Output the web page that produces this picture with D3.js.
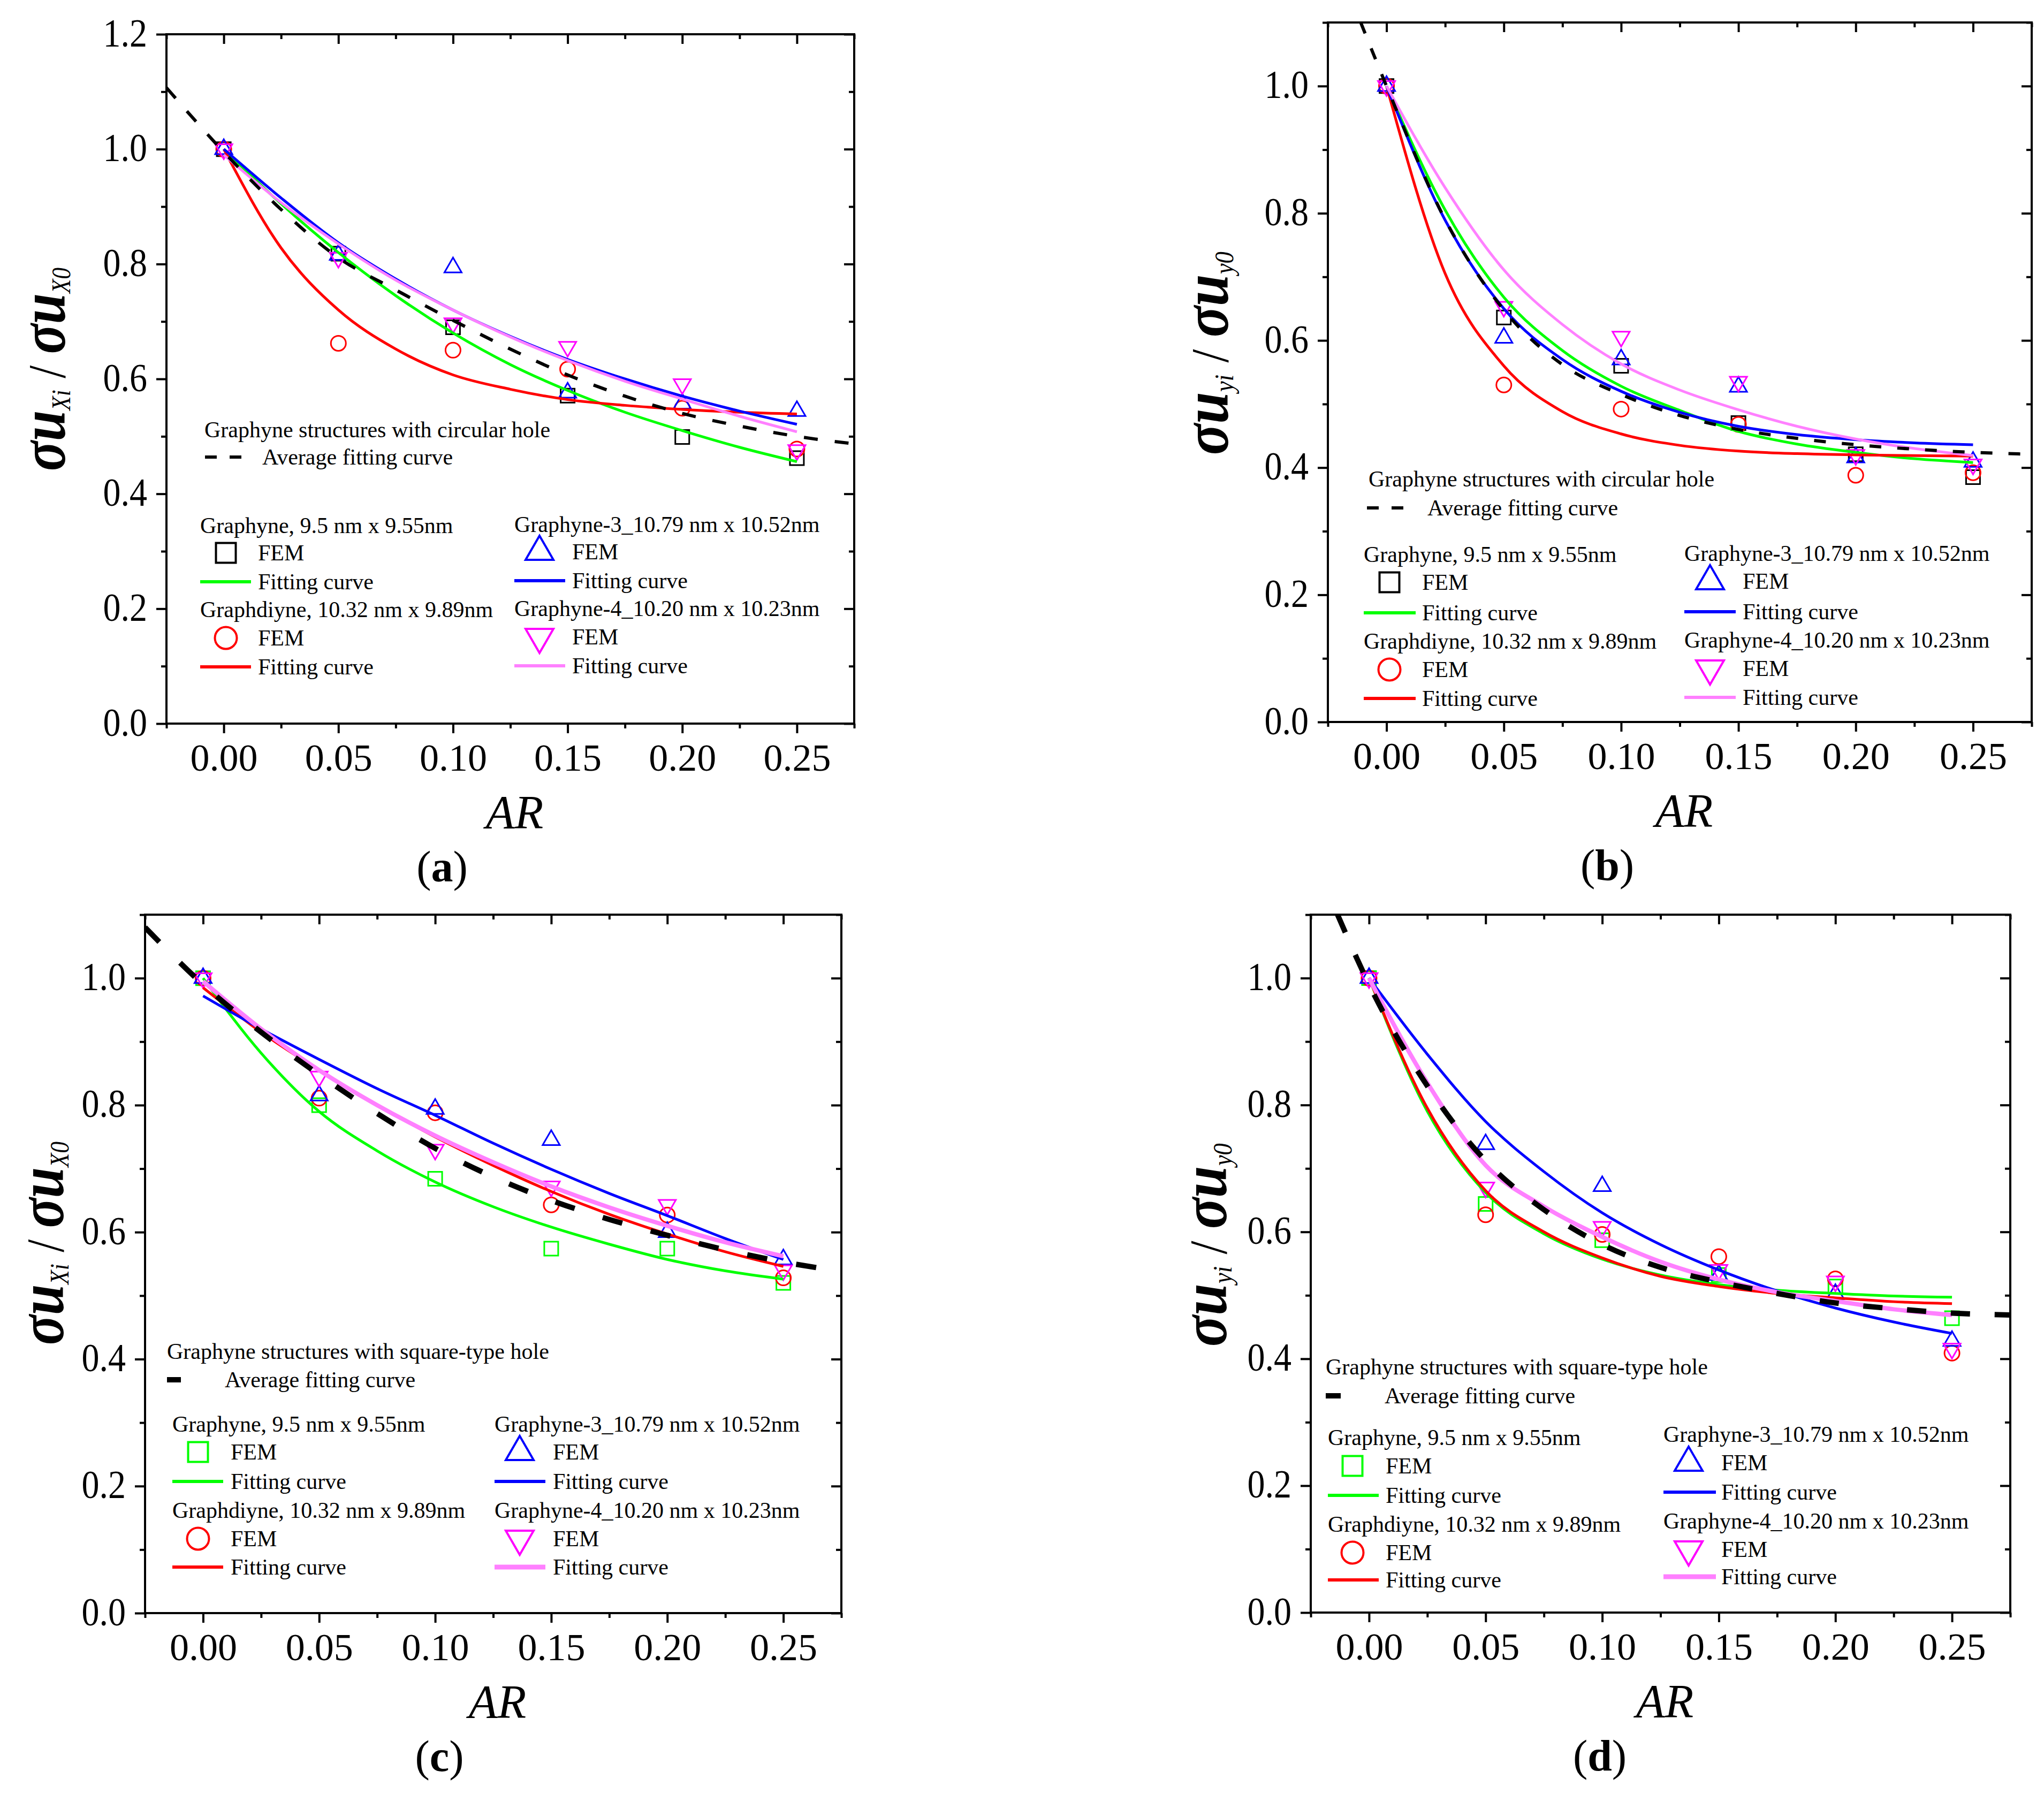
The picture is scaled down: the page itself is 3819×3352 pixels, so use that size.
<!DOCTYPE html>
<html>
<head>
<meta charset="utf-8">
<script src="https://cdn.jsdelivr.net/npm/d3@7"></script>
<style>
  body { margin: 0; background: #fff; }
  svg text { font-family: "Liberation Serif", "Times New Roman", serif; fill: #000; }
</style>
</head>
<body>
<svg id="fig" width="3819" height="3352"></svg>
<script>
// ---- values ----
const arValues = [0, 0.05, 0.10, 0.15, 0.20, 0.25];
const fitAr = [0, 0.025, 0.05, 0.075, 0.10, 0.125, 0.15, 0.175, 0.20, 0.225, 0.25];

const xTicks = [0, 0.05, 0.10, 0.15, 0.20, 0.25];
const xMinorTicks = [-0.025, 0.025, 0.075, 0.125, 0.175, 0.225, 0.275];
const yTicksA = [0, 0.2, 0.4, 0.6, 0.8, 1.0, 1.2];
const yMinorTicksA = [0.1, 0.3, 0.5, 0.7, 0.9, 1.1];
const yTicks = [0, 0.2, 0.4, 0.6, 0.8, 1.0];
const yMinorTicks = [0.1, 0.3, 0.5, 0.7, 0.9, 1.1];

const seriesLabels = ["Graphyne,  9.5 nm x 9.55nm", "Graphdiyne, 10.32 nm x 9.89nm",
                      "Graphyne-3_10.79 nm x 10.52nm", "Graphyne-4_10.20 nm x 10.23nm"];

// (a) circular hole, x-direction
const aFemGraphyne   = [1.0, 0.818, 0.690, 0.571, 0.499, 0.462];
const aFemGraphdiyne = [1.0, 0.662, 0.650, 0.617, 0.549, 0.478];
const aFemG3         = [1.0, 0.816, 0.794, 0.576, 0.557, 0.544];
const aFemG4         = [1.0, 0.811, 0.697, 0.656, 0.591, 0.476];
const aFitGraphyne   = [1.0, 0.905, 0.820, 0.745, 0.680, 0.625, 0.580, 0.542, 0.510, 0.481, 0.456];
const aFitGraphdiyne = [1.0, 0.828, 0.720, 0.652, 0.607, 0.582, 0.564, 0.554, 0.547, 0.542, 0.539];
const aFitG3         = [1.0, 0.915, 0.837, 0.774, 0.720, 0.674, 0.634, 0.600, 0.570, 0.544, 0.521];
const aFitG4         = [0.99, 0.907, 0.835, 0.772, 0.720, 0.673, 0.632, 0.596, 0.565, 0.535, 0.508];
const aAvgAr = [-0.025, 0, 0.025, 0.05, 0.075, 0.10, 0.125, 0.15, 0.175, 0.20, 0.225, 0.25, 0.275];
const aAvg   = [1.107, 0.995, 0.895, 0.811, 0.755, 0.702, 0.652, 0.607, 0.570, 0.540, 0.518, 0.500, 0.487];

// (b) circular hole, y-direction
const bFemGraphyne   = [1.0, 0.636, 0.560, 0.470, 0.421, 0.385];
const bFemGraphdiyne = [1.0, 0.530, 0.492, 0.468, 0.388, 0.392];
const bFemG3         = [1.0, 0.604, 0.570, 0.527, 0.416, 0.409];
const bFemG4         = [1.0, 0.653, 0.606, 0.535, 0.420, 0.405];
const bFitGraphyne   = [1.0, 0.805, 0.668, 0.584, 0.528, 0.490, 0.457, 0.437, 0.424, 0.414, 0.408];
const bFitGraphdiyne = [1.0, 0.705, 0.560, 0.488, 0.453, 0.435, 0.426, 0.422, 0.420, 0.419, 0.418];
const bFitG3         = [1.0, 0.789, 0.650, 0.570, 0.520, 0.487, 0.465, 0.452, 0.444, 0.439, 0.436];
const bFitG4         = [1.0, 0.840, 0.711, 0.625, 0.563, 0.522, 0.491, 0.465, 0.445, 0.430, 0.419];
const bAvgAr = [-0.011, 0, 0.025, 0.05, 0.075, 0.10, 0.125, 0.15, 0.175, 0.20, 0.225, 0.25, 0.275];
const bAvg   = [1.10, 1.0, 0.790, 0.648, 0.562, 0.515, 0.482, 0.460, 0.446, 0.436, 0.429, 0.424, 0.421];

// (c) square-type hole, x-direction
const cFemGraphyne   = [1.0, 0.800, 0.684, 0.574, 0.574, 0.520];
const cFemGraphdiyne = [1.0, 0.811, 0.788, 0.643, 0.627, 0.528];
const cFemG3         = [1.0, 0.815, 0.794, 0.745, 0.600, 0.557];
const cFemG4         = [1.0, 0.845, 0.730, 0.672, 0.643, 0.540];
const cFitGraphyne   = [1.0, 0.882, 0.790, 0.728, 0.679, 0.640, 0.608, 0.581, 0.557, 0.539, 0.526];
const cFitGraphdiyne = [0.985, 0.915, 0.855, 0.800, 0.750, 0.705, 0.664, 0.628, 0.597, 0.569, 0.546];
const cFitG3         = [0.972, 0.920, 0.872, 0.826, 0.784, 0.740, 0.699, 0.661, 0.626, 0.590, 0.557];
const cFitG4         = [0.995, 0.920, 0.855, 0.800, 0.752, 0.710, 0.672, 0.639, 0.610, 0.584, 0.562];
const cAvgAr = [-0.025, 0, 0.025, 0.05, 0.075, 0.10, 0.125, 0.15, 0.175, 0.20, 0.225, 0.25, 0.275];
const cAvg   = [1.080, 0.990, 0.915, 0.848, 0.787, 0.732, 0.687, 0.650, 0.620, 0.595, 0.572, 0.553, 0.538];

// (d) square-type hole, y-direction
const dFemGraphyne   = [1.0, 0.644, 0.587, 0.532, 0.514, 0.464];
const dFemGraphdiyne = [1.0, 0.627, 0.596, 0.561, 0.526, 0.409];
const dFemG3         = [1.0, 0.738, 0.672, 0.532, 0.502, 0.428];
const dFemG4         = [1.0, 0.670, 0.608, 0.540, 0.522, 0.416];
const dFitGraphyne   = [1.0, 0.790, 0.662, 0.597, 0.557, 0.532, 0.517, 0.508, 0.503, 0.499, 0.497];
const dFitGraphdiyne = [1.0, 0.795, 0.665, 0.600, 0.559, 0.530, 0.514, 0.503, 0.496, 0.490, 0.487];
const dFitG3         = [1.0, 0.880, 0.774, 0.695, 0.630, 0.580, 0.540, 0.507, 0.480, 0.458, 0.440];
const dFitG4         = [1.0, 0.835, 0.705, 0.640, 0.592, 0.553, 0.525, 0.505, 0.491, 0.478, 0.469];
const dAvgAr = [-0.0135, 0, 0.025, 0.05, 0.075, 0.10, 0.125, 0.15, 0.175, 0.20, 0.225, 0.25, 0.275];
const dAvg   = [1.10, 0.990, 0.830, 0.712, 0.635, 0.580, 0.544, 0.521, 0.503, 0.488, 0.479, 0.472, 0.469];

// ---- styles ----
const shapes = ["square", "circle", "up", "down"];
const fitColors = ["#00ff00", "#ff0000", "#0000ff", "#ff80ff"];
const plotMarkerSize = {square: 26, circle: 28, up: 32, down: 32};
const legendMarkerSize = {square: 37, circle: 41, up: 52, down: 52};
const FONT = "'Liberation Serif', 'Times New Roman', serif";

const svg = d3.select("#fig");
svg.append("rect").attr("width", 3819).attr("height", 3352).attr("fill", "#fff");
const defs = svg.append("defs");

function markerPath(shape, s) {
  if (shape === "square") return `M${-s/2},${-s/2}h${s}v${s}h${-s}Z`;
  if (shape === "circle") { const r = s/2; return `M${r},0A${r},${r} 0 1,1 ${-r},0A${r},${r} 0 1,1 ${r},0Z`; }
  const h = s * 0.866;
  if (shape === "up") return `M0,${-2*h/3}L${s/2},${h/3}L${-s/2},${h/3}Z`;
  return `M0,${2*h/3}L${s/2},${-h/3}L${-s/2},${-h/3}Z`;
}

function drawPanel(p) {
  const x = d3.scaleLinear().domain([-0.025, 0.275]).range([p.left, p.right]);
  const y = d3.scaleLinear().domain([0, p.yMax]).range([p.bottom, p.top]);
  const g = svg.append("g");

  defs.append("clipPath").attr("id", "clip" + p.id).append("rect")
    .attr("x", p.left).attr("y", p.top)
    .attr("width", p.right - p.left).attr("height", p.bottom - p.top);

  const tidy = sel => {
    sel.select(".domain").remove();
    sel.selectAll(".tick line").attr("stroke", "#000").attr("stroke-width", 4);
  };

  // x axes (bottom labelled, top mirrored inward)
  g.append("g").attr("transform", `translate(0,${p.bottom})`)
    .call(d3.axisBottom(x).tickValues(xTicks).tickSize(18).tickFormat(d3.format(".2f")))
    .call(tidy)
    .call(s => s.selectAll("text").attr("y", 88).attr("dy", null)
      .attr("font-size", 72).attr("font-family", FONT).attr("fill", "#000"));
  g.append("g").attr("transform", `translate(0,${p.bottom})`)
    .call(d3.axisBottom(x).tickValues(xMinorTicks).tickSize(9).tickFormat("")).call(tidy);
  g.append("g").attr("transform", `translate(0,${p.top})`)
    .call(d3.axisTop(x).tickValues(xTicks).tickSize(-18).tickFormat("")).call(tidy);
  g.append("g").attr("transform", `translate(0,${p.top})`)
    .call(d3.axisTop(x).tickValues(xMinorTicks).tickSize(-9).tickFormat("")).call(tidy);

  // y axes
  g.append("g").attr("transform", `translate(${p.left},0)`)
    .call(d3.axisLeft(y).tickValues(p.yTicks).tickSize(19).tickFormat(d3.format(".1f")))
    .call(tidy)
    .call(s => s.selectAll("text").attr("x", null).attr("dy", null)
      .attr("transform", "translate(-36,22) scale(0.88,1)")
      .attr("text-anchor", "end").attr("font-size", 75)
      .attr("font-family", FONT).attr("fill", "#000"));
  g.append("g").attr("transform", `translate(${p.left},0)`)
    .call(d3.axisLeft(y).tickValues(p.yMinor).tickSize(10).tickFormat("")).call(tidy);
  g.append("g").attr("transform", `translate(${p.right},0)`)
    .call(d3.axisRight(y).tickValues(p.yTicks).tickSize(-19).tickFormat("")).call(tidy);
  g.append("g").attr("transform", `translate(${p.right},0)`)
    .call(d3.axisRight(y).tickValues(p.yMinor).tickSize(-10).tickFormat("")).call(tidy);

  g.append("rect").attr("x", p.left).attr("y", p.top)
    .attr("width", p.right - p.left).attr("height", p.bottom - p.top)
    .attr("fill", "none").attr("stroke", "#000").attr("stroke-width", 4);

  const plot = g.append("g").attr("clip-path", `url(#clip${p.id})`);
  const line = d3.line().x(d => x(d[0])).y(d => y(d[1])).curve(d3.curveMonotoneX);

  // FEM markers
  p.fem.forEach((vals, i) => {
    plot.append("g").selectAll("path")
      .data(arValues.map((a, k) => [a, vals[k]]))
      .join("path")
      .attr("transform", d => `translate(${x(d[0])},${y(d[1])})`)
      .attr("d", markerPath(shapes[i], plotMarkerSize[shapes[i]]))
      .attr("fill", "none").attr("stroke", p.markerColors[i]).attr("stroke-width", 3);
  });

  // fitting curves
  p.fits.forEach((vals, i) => {
    plot.append("path")
      .datum(fitAr.map((a, k) => [a, vals[k]]))
      .attr("d", line)
      .attr("fill", "none").attr("stroke", fitColors[i])
      .attr("stroke-width", i === 3 ? p.pinkWidth : 5);
  });

  // average fitting curve
  plot.append("path")
    .datum(p.avgAr.map((a, k) => [a, p.avg[k]]))
    .attr("d", line)
    .attr("fill", "none").attr("stroke", "#000")
    .attr("stroke-width", p.avgWidth).attr("stroke-dasharray", p.avgDash);

  // axis titles
  g.append("text").attr("x", (p.left + p.right) / 2 + 8).attr("y", p.bottom + 195)
    .attr("text-anchor", "middle").attr("font-size", 88).attr("font-style", "italic")
    .text("AR");

  const yt = g.append("text").attr("text-anchor", "middle").style("white-space", "pre");
  const part = (txt, size, bold, italic, dy) => yt.append("tspan").text(txt)
    .attr("font-size", size).attr("font-weight", bold ? "bold" : "normal")
    .attr("font-style", italic ? "italic" : "normal").attr("dy", dy);
  part("σu", 120, true, true, 0);
  part(p.sub1, 50, false, true, 10);
  part(" / ", 100, false, false, -10);
  part("σu", 120, true, true, 0);
  part(p.sub2, 50, false, true, 10);
  const sx = 380 / yt.node().getComputedTextLength();
  yt.attr("transform", `translate(${p.titleX},${p.titleY}) rotate(-90) scale(${sx},1)`);

  // caption
  const cap = g.append("text").attr("x", p.capX).attr("y", p.bottom + 295)
    .attr("text-anchor", "middle").attr("font-size", 82);
  cap.append("tspan").text("(");
  cap.append("tspan").attr("font-weight", "bold").text(p.letter);
  cap.append("tspan").text(")");

  // legend
  const L = p.legend;
  const lg = g.append("g").attr("font-size", 42).style("white-space", "pre");
  const label = (tx, ty, txt) => lg.append("text").attr("x", tx).attr("y", ty)
    .attr("dominant-baseline", "central").text(txt);
  label(L.head[0], L.head[1], p.headText);
  lg.append("line").attr("x1", L.dash[0]).attr("x2", L.dash[1])
    .attr("y1", L.avgRow).attr("y2", L.avgRow)
    .attr("stroke", "#000").attr("stroke-width", p.avgWidth)
    .attr("stroke-dasharray", p.legendDash);
  label(L.avgText, L.avgRow, "Average fitting curve");

  seriesLabels.forEach((name, i) => {
    const c = L.cols[Math.floor(i / 2)];
    const r0 = (i % 2) * 3;
    const rows = L.rows.map(v => v + (c.dy || 0));
    label(c.x, rows[r0], name);
    lg.append("path").attr("transform", `translate(${c.mx},${rows[r0 + 1]})`)
      .attr("d", markerPath(shapes[i], legendMarkerSize[shapes[i]]))
      .attr("fill", "none").attr("stroke", p.markerColors[i]).attr("stroke-width", 4);
    label(c.tx, rows[r0 + 1], "FEM");
    lg.append("line").attr("x1", c.x).attr("x2", c.lineEnd)
      .attr("y1", rows[r0 + 2]).attr("y2", rows[r0 + 2])
      .attr("stroke", fitColors[i]).attr("stroke-width", i === 3 ? p.pinkWidth + 1 : 6);
    label(c.tx, rows[r0 + 2], "Fitting curve");
  });
}

drawPanel({
  id: "a", letter: "a", left: 311, right: 1596, top: 64, bottom: 1352, yMax: 1.2,
  yTicks: yTicksA, yMinor: yMinorTicksA, sub1: "Xi", sub2: "X0",
  titleX: 121, titleY: 690, capX: 826,
  markerColors: ["#000000", "#ff0000", "#0000ff", "#ff00ff"], pinkWidth: 5,
  fem: [aFemGraphyne, aFemGraphdiyne, aFemG3, aFemG4],
  fits: [aFitGraphyne, aFitGraphdiyne, aFitG3, aFitG4],
  avgAr: aAvgAr, avg: aAvg, avgWidth: 6, avgDash: "26,32", legendDash: "22,24",
  headText: "Graphyne structures with circular hole",
  legend: { head: [382, 803], avgRow: 854, dash: [383, 453], avgText: 490,
    cols: [{x: 374, mx: 422, tx: 482, lineEnd: 469}, {x: 961, mx: 1008, tx: 1069, lineEnd: 1056, dy: -2}],
    rows: [982, 1033, 1087, 1139, 1192, 1246] }
});

drawPanel({
  id: "b", letter: "b", left: 2481, right: 3796, top: 42, bottom: 1349, yMax: 1.1,
  yTicks: yTicks, yMinor: yMinorTicks, sub1: "yi", sub2: "y0",
  titleX: 2294, titleY: 660, capX: 3003,
  markerColors: ["#000000", "#ff0000", "#0000ff", "#ff00ff"], pinkWidth: 5,
  fem: [bFemGraphyne, bFemGraphdiyne, bFemG3, bFemG4],
  fits: [bFitGraphyne, bFitGraphdiyne, bFitG3, bFitG4],
  avgAr: bAvgAr, avg: bAvg, avgWidth: 6, avgDash: "22,30", legendDash: "22,24",
  headText: "Graphyne structures with circular hole",
  legend: { head: [2557, 895], avgRow: 949, dash: [2554, 2624], avgText: 2667,
    cols: [{x: 2548, mx: 2596, tx: 2657, lineEnd: 2645}, {x: 3147, mx: 3195, tx: 3256, lineEnd: 3243, dy: -2}],
    rows: [1036, 1088, 1145, 1198, 1251, 1305] }
});

drawPanel({
  id: "c", letter: "c", left: 271, right: 1572, top: 1709, bottom: 3014, yMax: 1.1,
  yTicks: yTicks, yMinor: yMinorTicks, sub1: "Xi", sub2: "X0",
  titleX: 118, titleY: 2323, capX: 821,
  markerColors: ["#00ff00", "#ff0000", "#0000ff", "#ff00ff"], pinkWidth: 8,
  fem: [cFemGraphyne, cFemGraphdiyne, cFemG3, cFemG4],
  fits: [cFitGraphyne, cFitGraphdiyne, cFitG3, cFitG4],
  avgAr: cAvgAr, avg: cAvg, avgWidth: 10, avgDash: "38,55", legendDash: null,
  headText: "Graphyne structures with square-type hole",
  legend: { head: [312, 2525], avgRow: 2578, dash: [312, 338], avgText: 420,
    cols: [{x: 322, mx: 370, tx: 431, lineEnd: 417}, {x: 924, mx: 971, tx: 1033, lineEnd: 1019}],
    rows: [2661, 2713, 2768, 2822, 2875, 2928] }
});

drawPanel({
  id: "d", letter: "d", left: 2449, right: 3756, top: 1709, bottom: 3013, yMax: 1.1,
  yTicks: yTicks, yMinor: yMinorTicks, sub1: "yi", sub2: "y0",
  titleX: 2291, titleY: 2326, capX: 2989,
  markerColors: ["#00ff00", "#ff0000", "#0000ff", "#ff00ff"], pinkWidth: 8,
  fem: [dFemGraphyne, dFemGraphdiyne, dFemG3, dFemG4],
  fits: [dFitGraphyne, dFitGraphdiyne, dFitG3, dFitG4],
  avgAr: dAvgAr, avg: dAvg, avgWidth: 10, avgDash: "36,46", legendDash: null,
  headText: "Graphyne structures with square-type hole",
  legend: { head: [2477, 2554], avgRow: 2608, dash: [2477, 2505], avgText: 2587,
    cols: [{x: 2481, mx: 2527, tx: 2589, lineEnd: 2576}, {x: 3108, mx: 3155, tx: 3216, lineEnd: 3206, dy: -6}],
    rows: [2686, 2739, 2794, 2848, 2901, 2952] }
});
</script>
</body>
</html>
